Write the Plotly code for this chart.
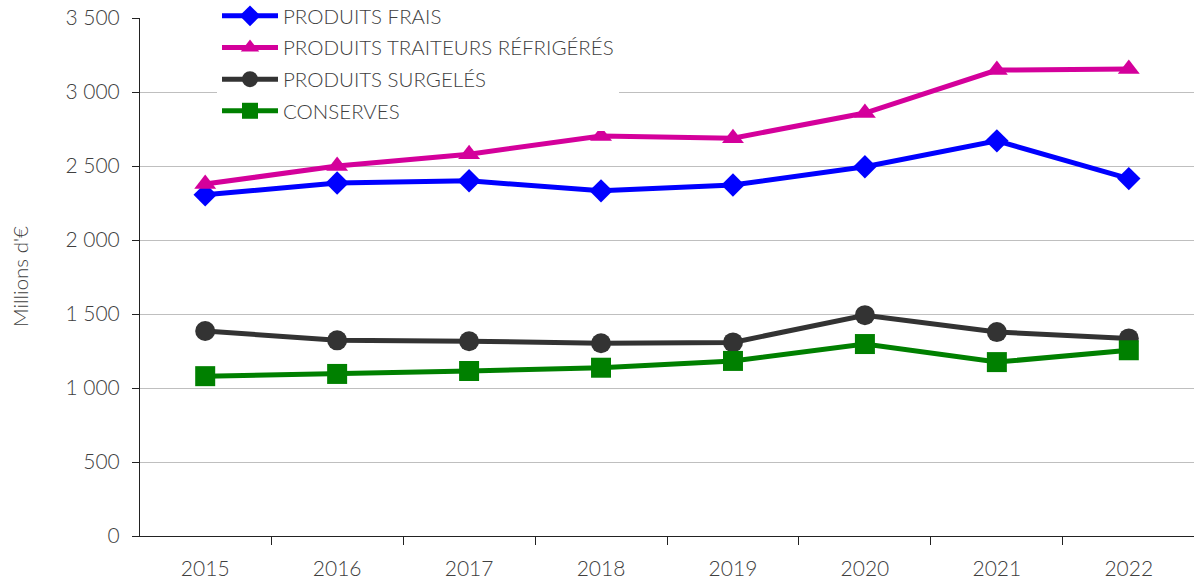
import plotly.graph_objects as go

years = ["2015", "2016", "2017", "2018", "2019", "2020", "2021", "2022"]
frais = [2305, 2385, 2400, 2332, 2372, 2495, 2670, 2415]
traiteurs = [2378, 2500, 2580, 2702, 2688, 2858, 3148, 3155]
surgeles = [1385, 1322, 1316, 1302, 1308, 1492, 1378, 1335]
conserves = [1080, 1095, 1115, 1137, 1183, 1297, 1175, 1255]

series = [
    ("PRODUITS FRAIS", frais, "#0000FF", "diamond", 18),
    ("PRODUITS TRAITEURS RÉFRIGÉRÉS", traiteurs, "#D4009B", "triangle-up", 19),
    ("PRODUITS SURGELÉS", surgeles, "#333333", "circle", 20),
    ("CONSERVES", conserves, "#008000", "square", 20),
]

font_family = "Lato"
txt_color = "#404040"
fs_tick = 21
fs_leg = 20.5

fig = go.Figure()
for i, (name, vals, color, sym, size) in enumerate(series):
    fig.add_trace(go.Scatter(
        x=years, y=vals, name=name, mode="lines+markers",
        line=dict(color=color, width=5),
        marker=dict(symbol=sym, size=size, color=color),
        legendgroup=f"g{i}",
    ))

fig.update_layout(
    width=1194, height=582, autosize=False,
    margin=dict(l=140, r=0, t=18, b=46, autoexpand=False),
    paper_bgcolor="white", plot_bgcolor="white",
    separators=", ",
    font=dict(family=font_family, size=fs_tick, color=txt_color, weight=300),
    showlegend=True,
    legend=dict(
        x=(217 - 140) / 1054, y=1 + 22 / 518, xanchor="left", yanchor="top",
        bgcolor="white", borderwidth=0,
        font=dict(size=fs_leg, color=txt_color, family=font_family, weight=300),
        tracegroupgap=2, itemwidth=56,
    ),
    xaxis=dict(
        type="category", tickson="boundaries", ticks="outside", ticklen=8,
        tickcolor="#222222", showline=True, linecolor="#222222", linewidth=1,
        showgrid=False, tickfont=dict(size=fs_tick, color=txt_color),
        ticklabelstandoff=14,
    ),
    yaxis=dict(
        range=[0, 3500], dtick=500, tick0=0, tickformat=",d", separatethousands=True,
        ticks="outside", ticklen=7, tickcolor="#222222",
        showline=True, linecolor="#222222", linewidth=1,
        showgrid=True, gridcolor="#BFBFBF", gridwidth=1, zeroline=False,
        tickfont=dict(size=fs_tick, color=txt_color),
        ticklabelstandoff=8,
    ),
    annotations=[dict(
        text="Millions d'€", xref="paper", yref="paper",
        x=(20 - 140) / 1054, y=0.5, xanchor="center", yanchor="middle",
        textangle=-90, showarrow=False,
        font=dict(size=fs_leg, color=txt_color, family=font_family, weight=300),
    )],
)

fig.write_html(
    "out.html",
    config={"responsive": False, "displayModeBar": False},
    post_script="document.body.style.margin='0px';document.body.style.overflow='hidden';",
)
